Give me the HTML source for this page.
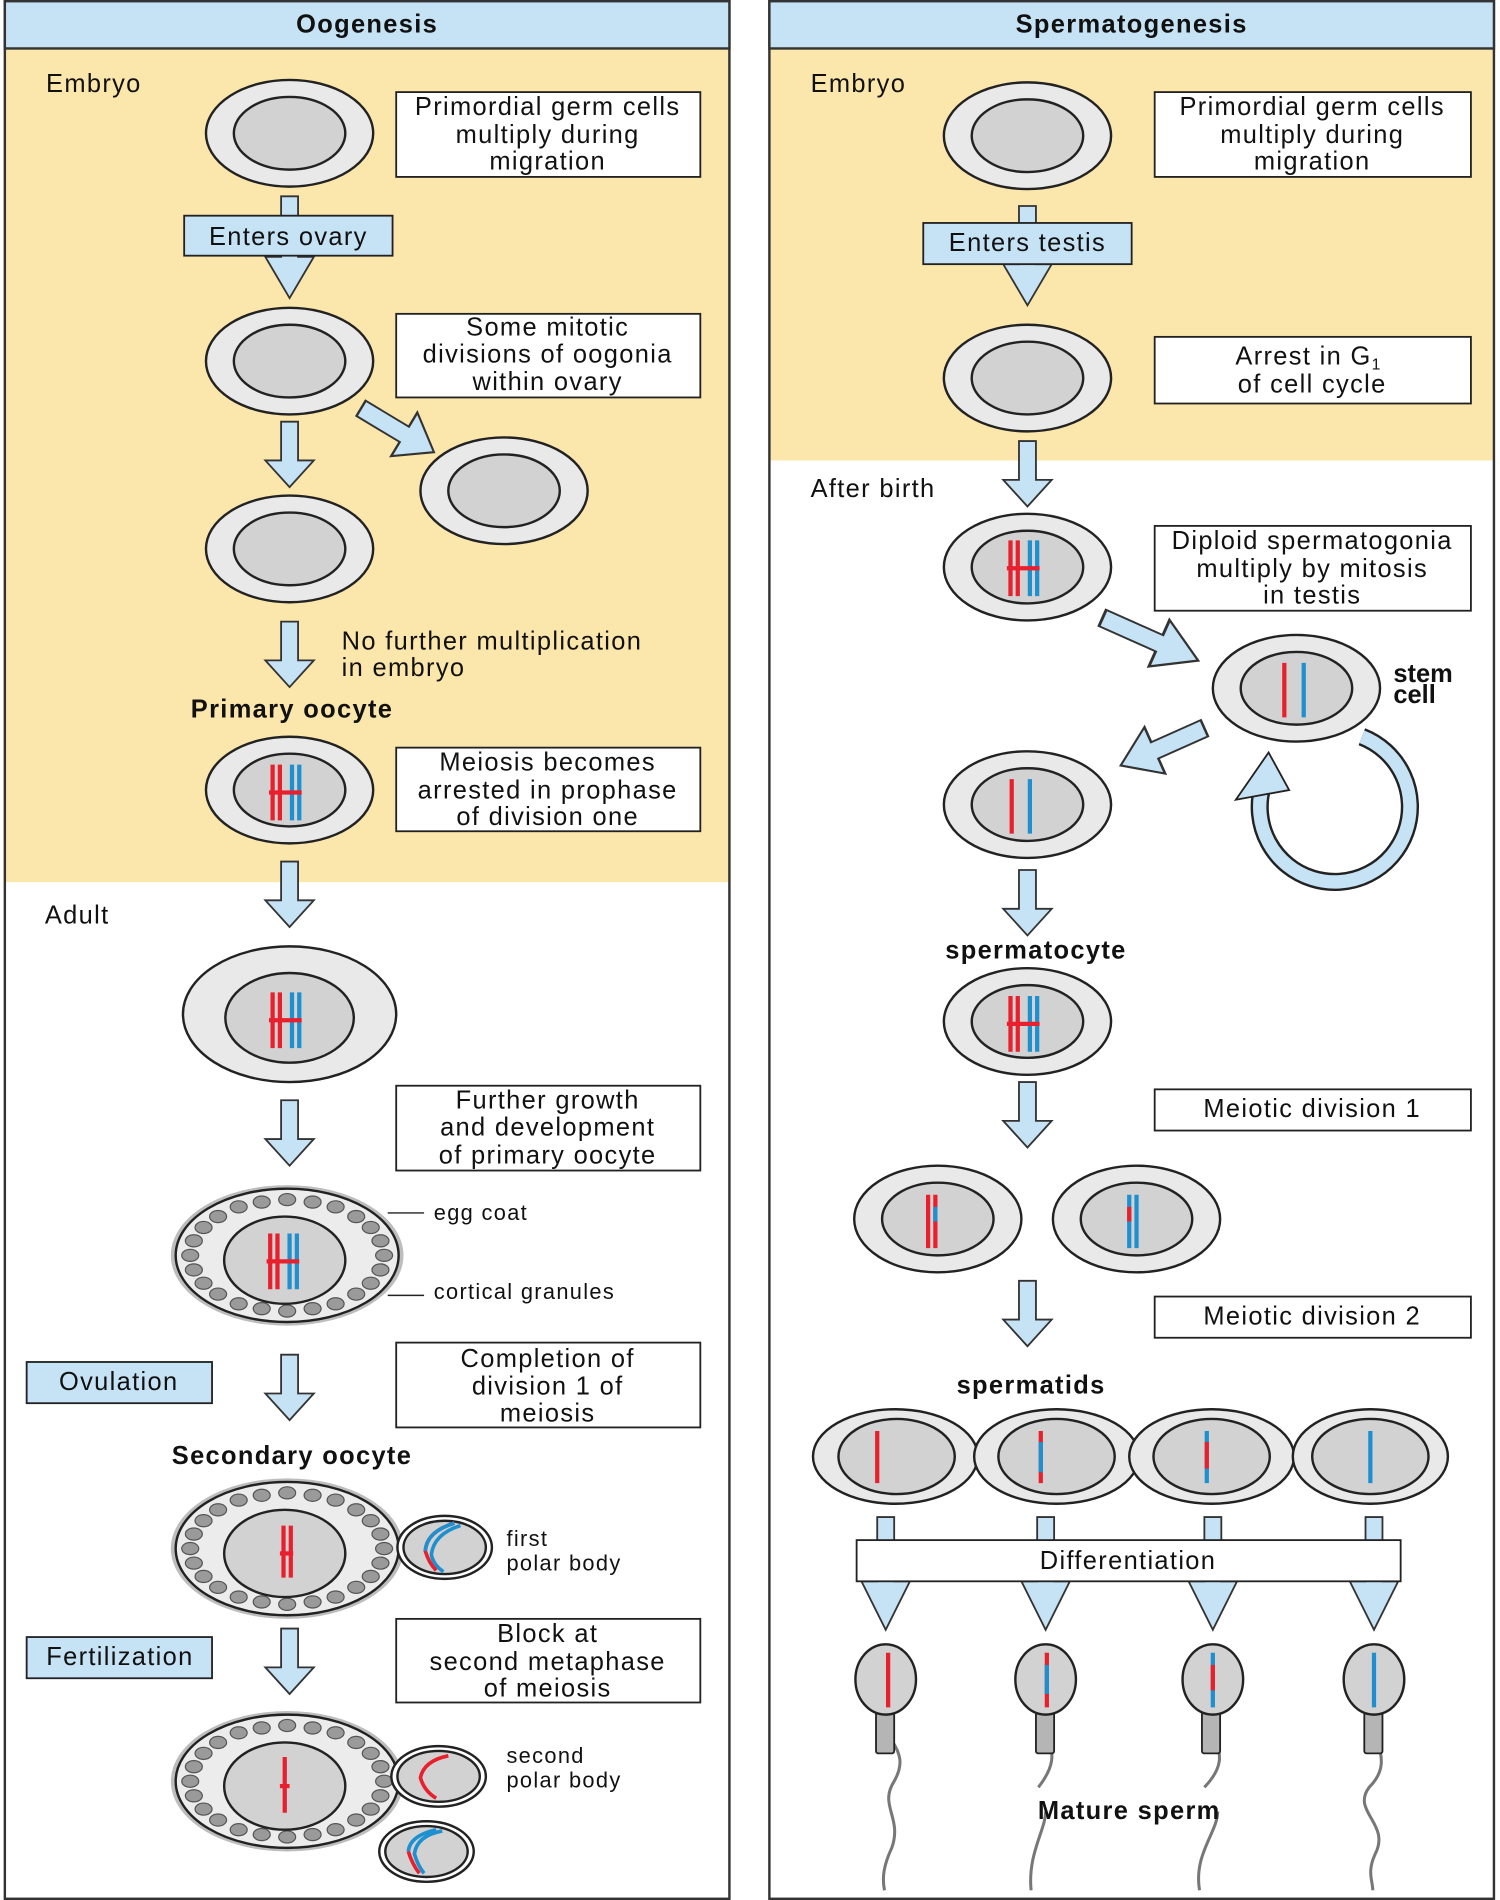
<!DOCTYPE html>
<html><head><meta charset="utf-8"><style>
html,body{margin:0;padding:0;background:#fff}
svg{display:block}
text{font-family:"Liberation Sans",sans-serif;fill:#111;letter-spacing:1.1px}
</style></head><body>
<svg width="1500" height="1900" viewBox="0 0 1238 1568" preserveAspectRatio="none" xmlns="http://www.w3.org/2000/svg">
<defs>
<path id="da" d="M-7,0 H7 V32 H20 L0,54 L-20,32 H-7 Z" fill="#c6e2f5" stroke="#333" stroke-width="1.5"/>
<g id="cell"><ellipse rx="69" ry="44" fill="#e9e9e9" stroke="#222" stroke-width="2"/><ellipse rx="46" ry="30" fill="#d2d2d2" stroke="#222" stroke-width="2"/></g>
<g id="gran" fill="#9a9a9a" stroke="#555" stroke-width="1">
<ellipse cx="80" cy="0" rx="7" ry="5"/><ellipse cx="77" cy="12" rx="7" ry="5"/><ellipse cx="69" cy="23" rx="7" ry="5"/><ellipse cx="57" cy="32" rx="7" ry="5"/><ellipse cx="40" cy="40" rx="7" ry="5"/><ellipse cx="21" cy="44" rx="7" ry="5"/><ellipse cx="0" cy="46" rx="7" ry="5"/><ellipse cx="-21" cy="44" rx="7" ry="5"/><ellipse cx="-40" cy="40" rx="7" ry="5"/><ellipse cx="-57" cy="32" rx="7" ry="5"/><ellipse cx="-69" cy="23" rx="7" ry="5"/><ellipse cx="-77" cy="12" rx="7" ry="5"/><ellipse cx="-80" cy="0" rx="7" ry="5"/><ellipse cx="-77" cy="-12" rx="7" ry="5"/><ellipse cx="-69" cy="-23" rx="7" ry="5"/><ellipse cx="-57" cy="-32" rx="7" ry="5"/><ellipse cx="-40" cy="-40" rx="7" ry="5"/><ellipse cx="-21" cy="-44" rx="7" ry="5"/><ellipse cx="0" cy="-46" rx="7" ry="5"/><ellipse cx="21" cy="-44" rx="7" ry="5"/><ellipse cx="40" cy="-40" rx="7" ry="5"/><ellipse cx="57" cy="-32" rx="7" ry="5"/><ellipse cx="69" cy="-23" rx="7" ry="5"/><ellipse cx="77" cy="-12" rx="7" ry="5"/>
</g>
<g id="egg"><ellipse rx="96" ry="58" fill="#bdbdbd"/><ellipse rx="92" ry="55" fill="#ececec" stroke="#222" stroke-width="2"/><use href="#gran"/><ellipse cx="-2" cy="4" rx="50" ry="36" fill="#d2d2d2" stroke="#222" stroke-width="2"/></g>
<g id="chr4" stroke-width="3.5" fill="none"><line x1="-12" y1="-23" x2="-12" y2="23" stroke="#e8202e"/><line x1="-6" y1="-23" x2="-6" y2="23" stroke="#e8202e"/><line x1="4" y1="-23" x2="4" y2="23" stroke="#1e90d0"/><line x1="10" y1="-23" x2="10" y2="23" stroke="#1e90d0"/><line x1="-15" y1="0" x2="12" y2="0" stroke="#e8202e"/></g>
</defs>
<style>.bx{fill:#fff;stroke:#222;stroke-width:1.5}.bb{fill:#c6e2f5;stroke:#222;stroke-width:1.5}.t{font-size:21px;text-anchor:middle}.b{font-weight:bold}</style>

<!-- LEFT PANEL -->
<rect x="4" y="40" width="598" height="688" fill="#fbe6ac"/>
<rect x="4" y="1" width="598" height="1566" fill="none" stroke="#333" stroke-width="2"/>
<rect x="4" y="1" width="598" height="39" fill="#c6e2f5" stroke="#333" stroke-width="2"/>
<text x="303" y="27" class="t b" font-size="22">Oogenesis</text>
<text x="38" y="76" font-size="21">Embryo</text>
<use href="#cell" x="239" y="110"/>
<rect x="327" y="76" width="251" height="70" class="bx"/>
<text class="t" x="452" y="95">Primordial germ cells</text><text class="t" x="452" y="118">multiply during</text><text class="t" x="452" y="140">migration</text>
<path d="M232,162 H246 V212 H259 L239,246 L219,212 H232 Z" fill="#c6e2f5" stroke="#333" stroke-width="1.5"/>
<rect x="152" y="178" width="172" height="33" class="bb"/>
<text class="t" x="238" y="202">Enters ovary</text>
<use href="#cell" x="239" y="298"/>
<rect x="327" y="259" width="251" height="69" class="bx"/>
<text class="t" x="452" y="277">Some mitotic</text><text class="t" x="452" y="299">divisions of oogonia</text><text class="t" x="452" y="322">within ovary</text>
<use href="#da" transform="translate(298,337) rotate(-59) scale(1.05,1.3)"/>
<use href="#cell" x="416" y="405"/>
<use href="#da" x="239" y="348"/>
<use href="#cell" x="239" y="453"/>
<use href="#da" x="239" y="513"/>
<text x="282" y="536" font-size="21">No further multiplication</text>
<text x="282" y="558" font-size="21">in embryo</text>
<text class="t b" x="241" y="592">Primary oocyte</text>
<use href="#cell" x="239" y="652"/><use href="#chr4" x="237" y="654"/>
<rect x="327" y="617" width="251" height="69" class="bx"/>
<text class="t" x="452" y="636">Meiosis becomes</text><text class="t" x="452" y="659">arrested in prophase</text><text class="t" x="452" y="681">of division one</text>
<use href="#da" x="239" y="711"/>
<text x="37" y="762" font-size="21">Adult</text>
<ellipse cx="239" cy="837" rx="88" ry="56" fill="#e9e9e9" stroke="#222" stroke-width="2"/>
<ellipse cx="239" cy="840" rx="53" ry="37" fill="#d2d2d2" stroke="#222" stroke-width="2"/>
<use href="#chr4" x="237" y="842"/>
<use href="#da" x="239" y="908"/>
<rect x="327" y="896" width="251" height="70" class="bx"/>
<text class="t" x="452" y="915">Further growth</text><text class="t" x="452" y="937">and development</text><text class="t" x="452" y="960">of primary oocyte</text>
<use href="#egg" x="237" y="1036"/><use href="#chr4" x="235" y="1041"/>
<line x1="320" y1="1001" x2="350" y2="1001" stroke="#222" stroke-width="1.2"/>
<line x1="320" y1="1069" x2="350" y2="1069" stroke="#222" stroke-width="1.2"/>
<text x="358" y="1007" font-size="18">egg coat</text>
<text x="358" y="1072" font-size="18">cortical granules</text>
<rect x="22" y="1124" width="153" height="34" class="bb"/>
<text class="t" x="98" y="1147">Ovulation</text>
<use href="#da" x="239" y="1118"/>
<rect x="327" y="1108" width="251" height="70" class="bx"/>
<text class="t" x="452" y="1128">Completion of</text><text class="t" x="452" y="1151">division 1 of</text><text class="t" x="452" y="1173">meiosis</text>
<text class="t b" x="241" y="1208">Secondary oocyte</text>
<use href="#egg" x="237" y="1278"/>
<g stroke-width="3.5"><line x1="234" y1="1259" x2="234" y2="1302" stroke="#e8202e"/><line x1="240" y1="1259" x2="240" y2="1302" stroke="#e8202e"/><line x1="231" y1="1282" x2="242" y2="1282" stroke="#e8202e"/></g>
<ellipse cx="367" cy="1277" rx="39" ry="26" fill="#fff" stroke="#222" stroke-width="2"/>
<ellipse cx="367" cy="1277" rx="34" ry="22" fill="#d2d2d2" stroke="#222" stroke-width="2"/>
<path d="M380,1259 Q358,1266 356,1283 Q358,1292 366,1297" fill="none" stroke="#1e90d0" stroke-width="3"/>
<path d="M375,1257 Q352,1264 351,1280 Q354,1290 360,1296" fill="none" stroke="#e8202e" stroke-width="3"/>
<path d="M375,1257 Q352,1264 351,1280" fill="none" stroke="#1e90d0" stroke-width="3"/>
<text x="418" y="1276" font-size="18">first</text>
<text x="418" y="1296" font-size="18">polar body</text>
<rect x="22" y="1351" width="153" height="34" class="bb"/>
<text class="t" x="99" y="1374">Fertilization</text>
<use href="#da" x="239" y="1344"/>
<rect x="327" y="1336" width="251" height="69" class="bx"/>
<text class="t" x="452" y="1355">Block at</text><text class="t" x="452" y="1378">second metaphase</text><text class="t" x="452" y="1400">of meiosis</text>
<use href="#egg" x="237" y="1470"/>
<g stroke-width="3.5"><line x1="235" y1="1450" x2="235" y2="1496" stroke="#e8202e"/><line x1="231" y1="1474" x2="239" y2="1474" stroke="#e8202e"/></g>
<ellipse cx="362" cy="1466" rx="39" ry="25" fill="#fff" stroke="#222" stroke-width="2"/>
<ellipse cx="362" cy="1466" rx="34" ry="21" fill="#d2d2d2" stroke="#222" stroke-width="2"/>
<path d="M370,1449 Q350,1453 347,1467 Q350,1478 360,1484" fill="none" stroke="#e8202e" stroke-width="3"/>
<ellipse cx="352" cy="1528" rx="39" ry="25" fill="#fff" stroke="#222" stroke-width="2"/>
<ellipse cx="352" cy="1528" rx="34" ry="21" fill="#d2d2d2" stroke="#222" stroke-width="2"/>
<path d="M365,1511 Q344,1515 342,1530 Q345,1540 350,1546" fill="none" stroke="#1e90d0" stroke-width="3"/>
<path d="M360,1510 Q338,1515 337,1528" fill="none" stroke="#1e90d0" stroke-width="3"/>
<path d="M337,1528 Q340,1538 346,1546" fill="none" stroke="#e8202e" stroke-width="3"/>
<text x="418" y="1455" font-size="18">second</text>
<text x="418" y="1475" font-size="18">polar body</text>

<!-- RIGHT PANEL -->
<rect x="635" y="40" width="598" height="340" fill="#fbe6ac"/>
<rect x="635" y="1" width="598" height="1566" fill="none" stroke="#333" stroke-width="2"/>
<rect x="635" y="1" width="598" height="39" fill="#c6e2f5" stroke="#333" stroke-width="2"/>
<text x="934" y="27" class="t b" font-size="22">Spermatogenesis</text>
<text x="669" y="76" font-size="21">Embryo</text>
<use href="#cell" x="848" y="112"/>
<rect x="953" y="76" width="261" height="70" class="bx"/>
<text class="t" x="1083" y="95">Primordial germ cells</text><text class="t" x="1083" y="118">multiply during</text><text class="t" x="1083" y="140">migration</text>
<path d="M841,170 H855 V218 H868 L848,252 L828,218 H841 Z" fill="#c6e2f5" stroke="#333" stroke-width="1.5"/>
<rect x="762" y="184" width="172" height="34" class="bb"/>
<text class="t" x="848" y="207">Enters testis</text>
<use href="#cell" x="848" y="312"/>
<rect x="953" y="278" width="261" height="55" class="bx"/>
<text class="t" x="1080" y="301">Arrest in G<tspan font-size="13" dy="4">1</tspan></text><text class="t" x="1083" y="324">of cell cycle</text>
<use href="#da" x="848" y="364"/>
<text x="669" y="410" font-size="21">After birth</text>
<use href="#cell" x="848" y="468"/><use href="#chr4" x="846" y="469"/>
<rect x="953" y="434" width="261" height="70" class="bx"/>
<text class="t" x="1083" y="453">Diploid spermatogonia</text><text class="t" x="1083" y="476">multiply by mitosis</text><text class="t" x="1083" y="498">in testis</text>
<use href="#da" transform="translate(910,510) rotate(-66) scale(1.05,1.6)"/>
<use href="#cell" x="1070" y="568"/>
<g stroke-width="3.5"><line x1="1060" y1="547" x2="1060" y2="592" stroke="#e8202e"/><line x1="1076" y1="547" x2="1076" y2="592" stroke="#1e90d0"/></g>
<text x="1150" y="563" font-size="21" class="b" style="letter-spacing:0">stem</text>
<text x="1150" y="580" font-size="21" class="b" style="letter-spacing:0">cell</text>
<use href="#da" transform="translate(994,601) rotate(66) scale(1.05,1.4)"/>
<path d="M1124,608 A62,62 0 1 1 1042,649" fill="none" stroke="#222" stroke-width="15"/>
<path d="M1124,608 A62,62 0 1 1 1042,649" fill="none" stroke="#c6e2f5" stroke-width="11"/>
<path d="M1047,621 L1020,660 L1064,652 Z" fill="#c6e2f5" stroke="#222" stroke-width="1.5"/>
<use href="#cell" x="848" y="664"/>
<g stroke-width="3.5"><line x1="835" y1="643" x2="835" y2="688" stroke="#e8202e"/><line x1="850" y1="643" x2="850" y2="688" stroke="#1e90d0"/></g>
<use href="#da" x="848" y="718"/>
<text class="t b" x="855" y="791">spermatocyte</text>
<use href="#cell" x="848" y="843"/><use href="#chr4" x="846" y="845"/>
<use href="#da" x="848" y="893"/>
<rect x="953" y="899" width="261" height="34" class="bx"/>
<text class="t" x="1083" y="922">Meiotic division 1</text>
<use href="#cell" x="774" y="1006"/>
<g stroke-width="3.5"><line x1="766" y1="986" x2="766" y2="1030" stroke="#e8202e"/><line x1="772" y1="986" x2="772" y2="1030" stroke="#e8202e"/><line x1="772" y1="996" x2="772" y2="1008" stroke="#1e90d0"/></g>
<use href="#cell" x="938" y="1006"/>
<g stroke-width="3.5"><line x1="932" y1="986" x2="932" y2="1030" stroke="#1e90d0"/><line x1="938" y1="986" x2="938" y2="1030" stroke="#1e90d0"/><line x1="932" y1="996" x2="932" y2="1008" stroke="#e8202e"/></g>
<use href="#da" x="848" y="1057"/>
<rect x="953" y="1070" width="261" height="34" class="bx"/>
<text class="t" x="1083" y="1093">Meiotic division 2</text>
<text class="t b" x="851" y="1150">spermatids</text>
<rect x="725" y="1195" width="420" height="14" fill="#e9e9e9" stroke="#222" stroke-width="2"/>
<g>
<ellipse cx="739" cy="1202" rx="68" ry="39" fill="#e9e9e9" stroke="#222" stroke-width="2"/><ellipse cx="740" cy="1202" rx="48" ry="31" fill="#d2d2d2" stroke="#222" stroke-width="2"/>
<ellipse cx="872" cy="1202" rx="68" ry="39" fill="#e9e9e9" stroke="#222" stroke-width="2"/><ellipse cx="872" cy="1202" rx="48" ry="31" fill="#d2d2d2" stroke="#222" stroke-width="2"/>
<ellipse cx="1000" cy="1202" rx="68" ry="39" fill="#e9e9e9" stroke="#222" stroke-width="2"/><ellipse cx="1000" cy="1202" rx="48" ry="31" fill="#d2d2d2" stroke="#222" stroke-width="2"/>
<ellipse cx="1131" cy="1202" rx="64" ry="39" fill="#e9e9e9" stroke="#222" stroke-width="2"/><ellipse cx="1131" cy="1202" rx="48" ry="31" fill="#d2d2d2" stroke="#222" stroke-width="2"/>
</g>
<g stroke-width="3.5">
<line x1="724" y1="1181" x2="724" y2="1224" stroke="#e8202e"/>
<line x1="859" y1="1181" x2="859" y2="1224" stroke="#e8202e"/><line x1="859" y1="1190" x2="859" y2="1215" stroke="#1e90d0"/>
<line x1="996" y1="1181" x2="996" y2="1224" stroke="#1e90d0"/><line x1="996" y1="1190" x2="996" y2="1212" stroke="#e8202e"/>
<line x1="1131" y1="1181" x2="1131" y2="1224" stroke="#1e90d0"/>
</g>
<g fill="#c6e2f5" stroke="#333" stroke-width="1.5">
<path d="M724,1252 H738 V1305 H751 L731,1345 L711,1305 H724 Z"/>
<path d="M856,1252 H870 V1305 H883 L863,1345 L843,1305 H856 Z"/>
<path d="M994,1252 H1008 V1305 H1021 L1001,1345 L981,1305 H994 Z"/>
<path d="M1127,1252 H1141 V1305 H1154 L1134,1345 L1114,1305 H1127 Z"/>
</g>
<rect x="707" y="1271" width="449" height="34" class="bx"/>
<text class="t" x="931" y="1295">Differentiation</text>
<g fill="none" stroke="#777" stroke-width="2.5">
<path d="M731,1418 C731,1440 752,1445 738,1470 C725,1490 745,1500 736,1525 C729,1540 728,1550 730,1560"/>
<path d="M863,1418 C863,1440 878,1448 857,1475 M863,1495 C863,1510 848,1530 851,1560"/>
<path d="M1000,1418 C1000,1440 1018,1450 994,1475 M1005,1495 C1005,1512 985,1530 990,1560"/>
<path d="M1134,1418 C1134,1440 1150,1455 1130,1475 C1115,1495 1148,1505 1135,1530 C1128,1545 1133,1552 1133,1560"/>
</g>
<g fill="#b5b5b5" stroke="#222" stroke-width="1.5">
<rect x="723" y="1410" width="15" height="37" rx="2"/><rect x="855" y="1410" width="15" height="37" rx="2"/><rect x="992" y="1410" width="15" height="37" rx="2"/><rect x="1126" y="1410" width="15" height="37" rx="2"/>
</g>
<g fill="#d2d2d2" stroke="#222" stroke-width="2">
<ellipse cx="731" cy="1386" rx="25" ry="29"/><ellipse cx="863" cy="1386" rx="25" ry="29"/><ellipse cx="1001" cy="1386" rx="25" ry="29"/><ellipse cx="1134" cy="1386" rx="25" ry="29"/>
</g>
<g stroke-width="3.5">
<line x1="733" y1="1364" x2="733" y2="1409" stroke="#e8202e"/>
<line x1="864" y1="1364" x2="864" y2="1409" stroke="#e8202e"/><line x1="864" y1="1374" x2="864" y2="1398" stroke="#1e90d0"/>
<line x1="1001" y1="1364" x2="1001" y2="1409" stroke="#1e90d0"/><line x1="1001" y1="1374" x2="1001" y2="1395" stroke="#e8202e"/>
<line x1="1134" y1="1364" x2="1134" y2="1409" stroke="#1e90d0"/>
</g>
<text class="t b" x="932" y="1501">Mature sperm</text>
</svg>
</body></html>
